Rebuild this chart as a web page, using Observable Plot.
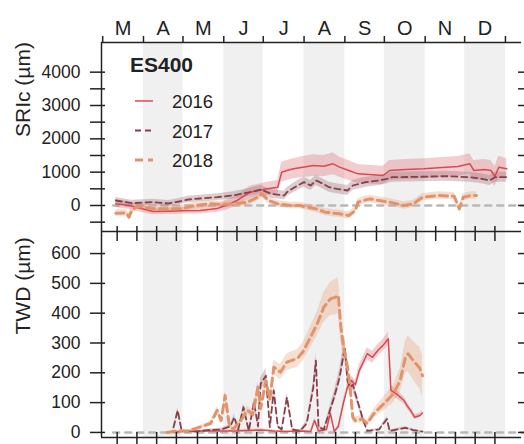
<!DOCTYPE html>
<html><head><meta charset="utf-8">
<script src="https://cdn.jsdelivr.net/npm/d3@7"></script>
<script src="https://cdn.jsdelivr.net/npm/@observablehq/plot@0.6"></script>
<style>
body{margin:0;background:#fff;font-family:"Liberation Sans",Arial,sans-serif;}
#wrap{position:relative;width:524px;height:444px;overflow:hidden;background:#fff;}
#wrap svg{position:absolute;left:0;}
</style></head><body><div id="wrap"></div>
<script>
// ---- axis / category data ----
const monthLabels = ["M","A","M","J","J","A","S","O","N","D"];
const monthStarts = [60,91,121,152,182,213,244,274,305,335,366];
const shadedMonths = [1,3,5,7,9];
const minorTicks = [71,86,101,116,132,147,162,177,192,207,222,237,252,268,283,298,313,328,343,358];
const sricTicks = [-500,0,500,1000,1500,2000,2500,3000,3500,4000];
const sricLabels = [0,1000,2000,3000,4000];
const twdTicks = [0,100,200,300,400,500,600];
const years = ["2016","2017","2018"];
const zeroLineStart = 68;

// ---- SRIc series ----
const sric2016Doy = [70,80,90,98,110,120,134,147,155,162,172,185,193,196,200,205,212,220,228,235,240,247,254,265,273,278,290,304,315,330,339,342,350,355,358,361,367];
const sric2016Val = [50,0,-100,-180,-170,-160,-150,-90,20,150,400,500,550,1000,1050,1100,1150,1200,1180,1250,1150,1050,950,920,900,1050,1080,1100,1130,1170,1250,1050,1080,1050,870,1150,1100];
const sric2016Sd  = [120,120,120,100,100,100,100,120,150,150,180,200,200,300,300,300,320,320,320,330,300,300,280,280,280,300,300,300,300,300,300,300,300,300,300,330,300];

const sric2017Doy = [70,82,98,110,118,125,134,147,159,172,180,188,198,200,208,213,218,222,225,232,238,246,250,255,260,270,276,280,300,320,339,348,354,358,367];
const sric2017Val = [150,70,100,60,120,180,210,250,300,400,480,350,300,400,600,700,600,750,700,550,500,450,600,650,700,750,800,850,860,880,850,800,750,850,850];
const sric2017Sd  = [90,90,90,90,90,100,100,100,110,120,130,130,130,130,150,150,150,150,150,150,150,150,150,150,150,150,150,150,150,150,150,150,150,150,150];

const sric2018Doy = [70,78,80,82,86,100,120,130,142,150,160,170,178,181,186,193,203,210,215,222,229,240,247,252,254,258,263,270,278,289,296,303,315,327,330,331,334,340,344];
const sric2018Val = [-230,-220,-350,-150,-30,-100,-100,0,50,30,50,100,250,350,150,50,0,0,-50,-100,-200,-250,-300,-150,100,150,200,150,100,0,50,250,300,280,0,-100,250,300,300];
const sric2018Sd  = [100,100,100,100,100,100,100,100,100,100,100,100,110,110,100,100,100,100,100,100,110,110,110,110,110,110,110,110,110,110,110,110,110,110,110,110,110,110,110];

// ---- TWD series ----
const twd2016Doy = [109,120,140,160,180,190,200,210,218,221,224,230,233,236,239,243,246,249,252,255,261,265,269,273,277,279,283,289,292,294,297,301,303];
const twd2016Val = [0,3,5,5,8,5,3,5,3,40,5,10,64,3,20,100,152,174,160,208,264,252,275,292,314,141,130,107,85,74,51,57,65];
const twd2016Sd  = [1,2,3,3,4,3,2,3,2,8,3,4,10,2,5,12,15,15,15,18,20,20,20,20,22,15,15,12,10,10,8,8,8];

const twd2017Doy = [109,113,117,120,130,140,150,157,160,163,167,171,175,178,180,184,187,190,193,196,200,204,210,215,220,222,224,228,236,240,244,246,248,250,252,255,258,261,270,276,278,290,296,303];
const twd2017Val = [0,2,74,5,3,8,10,20,51,10,85,5,102,20,163,190,18,141,20,10,118,10,5,30,150,241,18,10,120,185,286,174,152,160,130,85,40,5,10,45,5,15,8,3];
const twd2017Sd  = [1,2,10,3,2,3,4,6,10,4,12,3,15,5,20,25,5,18,5,4,15,4,3,8,20,30,6,4,20,25,35,25,20,20,18,12,8,3,4,8,3,5,3,2];

const twd2018Doy = [109,117,125,134,142,147,150,153,156,159,165,170,174,178,180,184,187,190,195,200,208,212,218,223,228,233,237,239,241,243,246,248,250,252,257,261,266,271,276,281,286,290,292,296,301,303];
const twd2018Val = [0,5,5,18,30,74,40,124,30,10,40,74,60,152,80,174,110,219,202,236,248,270,320,364,420,448,454,460,353,286,219,152,51,40,45,30,63,85,107,130,174,252,264,241,215,190];
const twd2018Sd  = [2,3,3,5,8,12,10,15,8,5,10,15,12,20,15,20,18,25,25,28,30,30,35,40,50,55,60,60,50,40,35,30,15,12,12,10,15,20,25,30,40,55,60,65,70,70];

// ---- styles ----
const lineColor = ["#d94a50","#8a3f4a","#e0946c"];
const bandColor = ["#e0707a","#a07075","#e8a47e"];
const lineWidth = [1.5,1.8,3];
const lineDash  = [null,"6,4","8,5"];
const ink = "#222";

const table = (d, v, s) => d.map((x,i)=>({d:x, v:v[i], lo:v[i]-s[i], hi:v[i]+s[i]}));
const sric = [table(sric2016Doy,sric2016Val,sric2016Sd), table(sric2017Doy,sric2017Val,sric2017Sd), table(sric2018Doy,sric2018Val,sric2018Sd)];
const twd  = [table(twd2016Doy,twd2016Val,twd2016Sd), table(twd2017Doy,twd2017Val,twd2017Sd), table(twd2018Doy,twd2018Val,twd2018Sd)];

const X_DOMAIN = [59.1, 378.2];
const shade = shadedMonths.map(i=>({a:monthStarts[i], b:monthStarts[i+1]}));
const monthMid = monthLabels.map((m,i)=>({m, x:(monthStarts[i]+monthStarts[i+1])/2}));
const zero = [{d:zeroLineStart,v:0},{d:X_DOMAIN[1]+10,v:0}];
const style = {fontFamily:"'Liberation Sans', Arial, sans-serif", fontSize:"17px", background:"none", overflow:"visible", color: ink};

function seriesMarks(data){
  const m = [];
  data.forEach((t,i)=>m.push(Plot.areaY(t,{x:"d",y1:"lo",y2:"hi",fill:bandColor[i],fillOpacity:0.35})));
  data.forEach((t,i)=>m.push(Plot.line(t,{x:"d",y:"v",stroke:lineColor[i],strokeWidth:lineWidth[i],strokeDasharray:lineDash[i]})));
  return m;
}

const topPlot = Plot.plot({
  width:524, height:231, marginLeft:101, marginRight:3, marginTop:42, marginBottom:0,
  style,
  x:{domain:X_DOMAIN, axis:null},
  y:{domain:[-780,4890], axis:null},
  marks:[
    Plot.rect(shade,{x1:"a",x2:"b",fill:"#f0f0f0"}),
    Plot.line(zero,{x:"d",y:"v",stroke:"#b8b8b8",strokeWidth:2.5,strokeDasharray:"6,6"}),
    ...seriesMarks(sric),
    Plot.ruleX([X_DOMAIN[0]],{stroke:ink,strokeWidth:1.5}),
    Plot.ruleY([4890],{stroke:ink,strokeWidth:1.5}),
    Plot.axisX(monthStarts,{anchor:"top",tickSize:7,fill:"none",stroke:ink,strokeWidth:1.5}),
    Plot.text(monthMid,{x:"x",text:"m",frameAnchor:"top",dy:-22,fontSize:20,fill:ink}),
    Plot.axisY(sricTicks,{anchor:"left",tickSize:15,dx:4,fill:"none",stroke:ink,strokeWidth:1.5}),
    Plot.axisY(sricTicks,{anchor:"right",tickSize:11,dx:-4,fill:"none",stroke:ink,strokeWidth:1.5}),
    Plot.text(sricLabels,{y:d=>d,text:d=>String(d),frameAnchor:"left",dx:-21,textAnchor:"end",fontSize:17.5,fill:ink}),
    Plot.text(["SRIc (µm)"],{frameAnchor:"left",dx:-78,rotate:-90,fontSize:21,fill:ink})
  ]
});
topPlot.style.top = "0px";
document.getElementById("wrap").appendChild(topPlot);

const botPlot = Plot.plot({
  width:524, height:213, marginLeft:101, marginRight:3, marginTop:0, marginBottom:7,
  style,
  x:{domain:X_DOMAIN, axis:null},
  y:{domain:[-17,674], axis:null},
  marks:[
    Plot.rect(shade,{x1:"a",x2:"b",fill:"#f0f0f0"}),
    Plot.line(zero,{x:"d",y:"v",stroke:"#b8b8b8",strokeWidth:2.5,strokeDasharray:"6,6"}),
    ...seriesMarks(twd),
    Plot.ruleX([X_DOMAIN[0]],{stroke:ink,strokeWidth:1.5}),
    Plot.ruleY([674],{stroke:ink,strokeWidth:1.5}),
    Plot.ruleY([-17],{stroke:ink,strokeWidth:1.5}),
    Plot.axisX(minorTicks,{anchor:"top",tickSize:15,dy:9,fill:"none",stroke:ink,strokeWidth:1.5}),
    Plot.axisX(minorTicks,{anchor:"bottom",tickSize:12,dy:-5,fill:"none",stroke:ink,strokeWidth:1.5}),
    Plot.axisY(twdTicks,{anchor:"left",tickSize:15,dx:4,fill:"none",stroke:ink,strokeWidth:1.5}),
    Plot.axisY(twdTicks,{anchor:"right",tickSize:11,dx:-4,fill:"none",stroke:ink,strokeWidth:1.5}),
    Plot.text(twdTicks,{y:d=>d,text:d=>String(d),frameAnchor:"left",dx:-21,textAnchor:"end",fontSize:17.5,fill:ink}),
    Plot.text(["TWD (µm)"],{frameAnchor:"left",dx:-78,rotate:-90,fontSize:21,fill:ink})
  ]
});
botPlot.style.top = "231px";
document.getElementById("wrap").appendChild(botPlot);

// ---- legend (inside top panel) ----
const leg = d3.select("#wrap").append("svg").attr("width",524).attr("height",444)
  .style("top","0px").style("font-family","'Liberation Sans', Arial, sans-serif");
leg.append("text").attr("x",130).attr("y",72).attr("font-weight","bold").attr("font-size",21).attr("fill",ink).text("ES400");
years.forEach((yr,i)=>{
  const y = 101 + i*29.5;
  leg.append("line").attr("x1",135).attr("x2",153).attr("y1",y).attr("y2",y)
    .attr("stroke",lineColor[i]).attr("stroke-width",lineWidth[i]).attr("stroke-dasharray",lineDash[i]);
  leg.append("text").attr("x",172).attr("y",y+7).attr("font-size",18.5).attr("fill",ink).text(yr);
});
</script></body></html>
